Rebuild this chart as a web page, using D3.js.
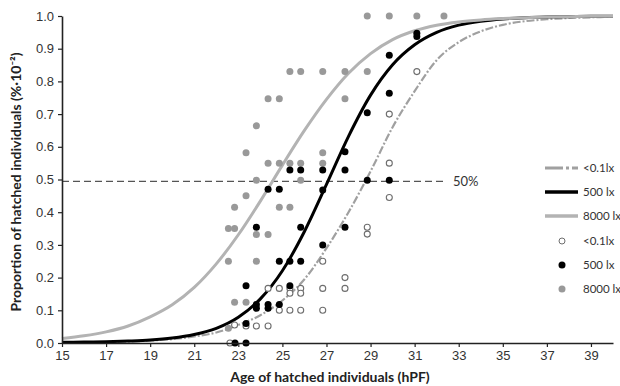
<!DOCTYPE html>
<html>
<head>
<meta charset="utf-8">
<script src="https://cdn.jsdelivr.net/npm/d3@7"></script>
<style>
  body { margin: 0; background: #fff; }
  svg { font-family: Lato, "Open Sans", sans-serif; }
  .tick text { fill: #333; font-size: 13px; }
  .axis-title { font-weight: bold; font-size: 14px; fill: #222; }
  .legend text { font-size: 11.5px; fill: #333; }
</style>
</head>
<body>
<svg id="chart" width="620" height="386"></svg>
<script>
// fitted curves at each whole hour
const curveAges = d3.range(15, 41);
const fitDark = [0.001, 0.0017, 0.0027, 0.0045, 0.0074, 0.012, 0.02, 0.032, 0.055, 0.085, 0.13, 0.195, 0.29, 0.40, 0.525,
                 0.66, 0.77, 0.865, 0.92, 0.953, 0.973, 0.984, 0.99, 0.994, 0.996, 0.998];
const fit500 = [0.002, 0.003, 0.004, 0.006, 0.009, 0.015, 0.026, 0.045, 0.079, 0.135, 0.221, 0.341, 0.485, 0.632, 0.758,
                0.851, 0.912, 0.95, 0.972, 0.984, 0.991, 0.995, 0.997, 0.998, 0.999, 0.999];
const fit8000 = [0.014, 0.022, 0.034, 0.052, 0.08, 0.117, 0.17, 0.242, 0.331, 0.434, 0.544, 0.65, 0.745, 0.825, 0.885,
                 0.928, 0.955, 0.972, 0.982, 0.988, 0.992, 0.995, 0.997, 0.998, 0.999, 0.999];

// observed proportions: [age, proportion]
const obsDark = [[22.62, 0.0], [22.83, 0.055], [23.35, 0.052], [23.82, 0.052], [24.35, 0.167], [24.35, 0.052],
  [24.86, 0.167], [24.86, 0.10], [25.34, 0.167], [25.34, 0.152], [25.34, 0.10], [25.83, 0.167], [25.83, 0.152], [25.83, 0.10],
  [26.83, 0.25], [26.83, 0.167], [26.83, 0.10], [27.84, 0.20], [27.84, 0.167], [28.85, 0.354], [28.85, 0.333],
  [29.85, 0.70], [29.85, 0.55], [29.85, 0.445], [31.1, 0.83]];
const obs500 = [[22.85, 0.0], [23.35, 0.175], [23.35, 0.06], [23.35, 0.0], [23.82, 0.354], [23.82, 0.118], [23.82, 0.106],
  [24.35, 0.47], [24.35, 0.118], [24.35, 0.106], [24.86, 0.47], [24.86, 0.25], [24.86, 0.118], [25.34, 0.529], [25.34, 0.25],
  [25.34, 0.175], [25.83, 0.529], [25.83, 0.354], [25.83, 0.25], [26.83, 0.529], [26.83, 0.468], [26.83, 0.30],
  [27.84, 0.585], [27.84, 0.529], [27.84, 0.354], [28.85, 0.704], [28.85, 0.498], [29.85, 0.88], [29.85, 0.764],
  [29.85, 0.498], [31.1, 0.947], [31.1, 0.937]];
const obs8000 = [[22.55, 0.35], [22.55, 0.25], [22.55, 0.045], [22.83, 0.415], [22.83, 0.35], [22.83, 0.125],
  [23.35, 0.582], [23.35, 0.45], [23.35, 0.125], [23.82, 0.664], [23.82, 0.498], [23.82, 0.332], [23.82, 0.25],
  [24.35, 0.747], [24.35, 0.55], [24.35, 0.332], [24.86, 0.747], [24.86, 0.55], [24.86, 0.415], [25.34, 0.83], [25.34, 0.55],
  [25.34, 0.415], [25.83, 0.83], [25.83, 0.55], [25.83, 0.498], [26.83, 0.83], [26.83, 0.582], [26.83, 0.55],
  [27.84, 0.83], [27.84, 0.747], [28.85, 1.0], [28.85, 0.83], [29.85, 1.0], [31.1, 1.0], [32.33, 1.0]];

const xTicks = d3.range(15, 40, 2);
const yTicks = d3.range(0, 1.01, 0.1);
const halfLine = 0.494;
const lineLabels = ['<0.1lx', '500 lx', '8000 lx'];
const dotLabels = ['<0.1lx', '500 lx', '8000 lx'];

let svg = d3.select('#chart');
let x = d3.scaleLinear().domain([15, 40]).range([62, 613]);
let y = d3.scaleLinear().domain([0, 1]).range([343, 16]);

let line = d3.line()
    .x(function(d, i){ return x(curveAges[i]); })
    .y(function(d){ return y(d); })
    .curve(d3.curveMonotoneX);

// 50% reference
svg.append('line')
    .attr('x1', x(15)).attr('x2', 443)
    .attr('y1', y(halfLine)).attr('y2', y(halfLine))
    .attr('stroke', '#555').attr('stroke-width', 1.3)
    .attr('stroke-dasharray', '7,4');
svg.append('text')
    .attr('x', 453).attr('y', y(halfLine) + 4.5)
    .attr('font-size', 13).attr('fill', '#333')
    .text('50%');

let curves = [
  {vals: fitDark, color: '#a0a0a0', width: 2.2, dash: '8,2,2,2'},
  {vals: fit500, color: '#000', width: 3, dash: null},
  {vals: fit8000, color: '#b3b3b3', width: 3, dash: null}
];

svg.append('g').selectAll('path')
    .data(curves)
    .enter()
    .append('path')
    .attr('d', function(d){ return line(d.vals); })
    .attr('fill', 'none')
    .attr('stroke', function(d){ return d.color; })
    .attr('stroke-width', function(d){ return d.width; })
    .attr('stroke-dasharray', function(d){ return d.dash; });

let dotSets = [
  {pts: obsDark, fill: '#fff', stroke: '#6e6e6e'},
  {pts: obs8000, fill: '#999', stroke: 'none'},
  {pts: obs500, fill: '#000', stroke: 'none'}
];

dotSets.forEach(function(s){
  svg.append('g').selectAll('circle')
      .data(s.pts)
      .enter()
      .append('circle')
      .attr('cx', function(d){ return x(d[0]); })
      .attr('cy', function(d){ return y(d[1]); })
      .attr('r', s.stroke == 'none' ? 3.5 : 3)
      .attr('fill', s.fill)
      .attr('stroke', s.stroke)
      .attr('stroke-width', 1.1);
});

// axes
let xAxis = svg.append('g')
    .attr('transform', `translate(0,${y(0)})`)
    .call(d3.axisBottom(x).tickValues(xTicks).tickSize(4).tickPadding(4).tickSizeOuter(0));
let yAxis = svg.append('g')
    .attr('transform', `translate(${x(15)},0)`)
    .call(d3.axisLeft(y).tickValues(yTicks).tickSize(4).tickPadding(4).tickFormat(d3.format('.1f')).tickSizeOuter(0));
[xAxis, yAxis].forEach(function(a){
  a.select('.domain').attr('stroke', '#222').attr('stroke-width', 1.6);
  a.selectAll('.tick line').attr('stroke', '#222').attr('stroke-width', 1.2);
});

svg.append('text').attr('class', 'axis-title')
    .attr('x', 330).attr('y', 382).attr('text-anchor', 'middle')
    .text('Age of hatched individuals (hPF)');
svg.append('text').attr('class', 'axis-title')
    .attr('transform', 'translate(21,182) rotate(-90)')
    .attr('text-anchor', 'middle')
    .text('Proportion of hatched individuals (%·10⁻²)');

// legend
let legend = svg.append('g').attr('class', 'legend');
lineLabels.forEach(function(lbl, i){
  let ly = 168 + i * 24;
  legend.append('line')
      .attr('x1', 545).attr('x2', 578).attr('y1', ly).attr('y2', ly)
      .attr('stroke', curves[i].color)
      .attr('stroke-width', i == 0 ? 3 : 3.5)
      .attr('stroke-dasharray', i == 0 ? '18,3,3,3' : null);
  legend.append('text').attr('x', 583).attr('y', ly + 4).text(lbl);
});
let dotStyle = [dotSets[0], dotSets[2], dotSets[1]];
dotLabels.forEach(function(lbl, i){
  let ly = 241 + i * 24;
  legend.append('circle')
      .attr('cx', 562).attr('cy', ly)
      .attr('r', dotStyle[i].stroke == 'none' ? 3.5 : 3)
      .attr('fill', dotStyle[i].fill)
      .attr('stroke', dotStyle[i].stroke);
  legend.append('text').attr('x', 583).attr('y', ly + 4).text(lbl);
});
</script>
</body>
</html>
